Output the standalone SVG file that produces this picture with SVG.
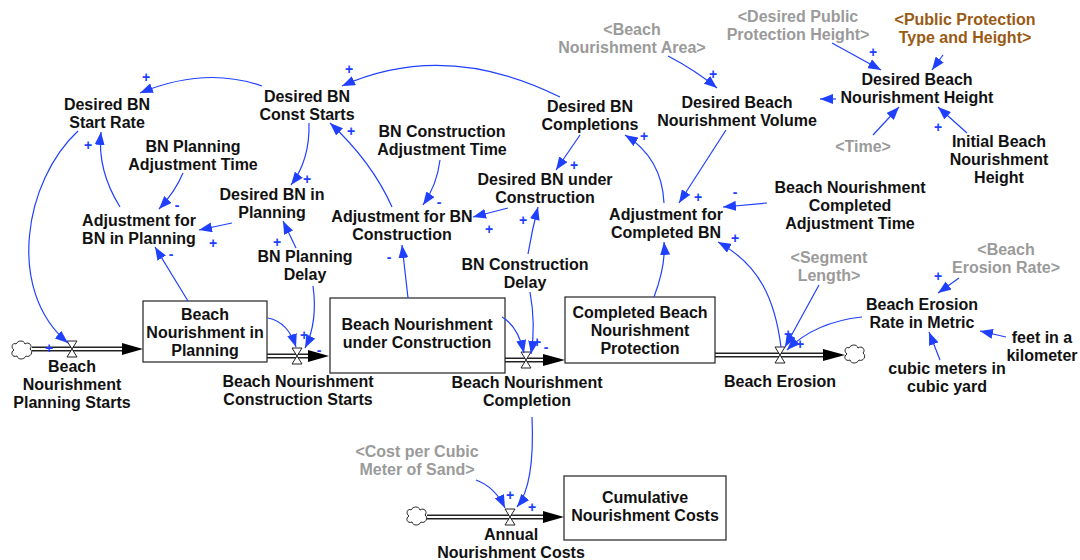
<svg xmlns="http://www.w3.org/2000/svg" width="1080" height="560" viewBox="0 0 1080 560">
<style>
text{font-family:"Liberation Sans",Arial,sans-serif;font-weight:bold;font-size:16px;text-anchor:middle;fill:#111}
.g{fill:#9a9a9a}
.br{fill:#9a5a14}
.p{fill:#2040ff;font-size:14px;dominant-baseline:central}
.c{fill:none;stroke:#2040ff;stroke-width:1.2;marker-end:url(#ab)}
.stock{fill:#fff;stroke:#222;stroke-width:1.2}
.po{fill:none;stroke:#222;stroke-width:5}
.pi{fill:none;stroke:#fff;stroke-width:1.8}
.valve{fill:#fff;stroke:#222;stroke-width:1}
.cloud{fill:#fff;stroke:#222;stroke-width:1}
</style>
<defs>
<marker id="ab" viewBox="0 0 13 10" refX="13" refY="5" markerWidth="13" markerHeight="10" orient="auto" markerUnits="userSpaceOnUse"><path d="M0,0 L13,5 L0,10 z" fill="#2040ff"/></marker>
<path id="cl" class="cloud" d="M-6,-6 C-4,-10 2,-10 3,-6 C7,-9 11,-4 8,-1 C12,2 8,8 4,6 C2,10 -4,10 -5,6 C-10,8 -12,2 -8,0 C-12,-3 -9,-8 -6,-6 Z"/>
<path id="vl" class="valve" d="M-5,-8 H5 L-5,8 H5 Z"/>
</defs>

<g id="flows">
<path class="po" d="M32,349 H124"/><path class="pi" d="M32,349 H124"/>
<polygon points="122,343 143,349 122,355" fill="#000"/>
<path class="po" d="M267,356 H310"/><path class="pi" d="M267,356 H310"/>
<polygon points="308,350 329,356 308,362" fill="#000"/>
<path class="po" d="M505,360 H545"/><path class="pi" d="M505,360 H545"/>
<polygon points="543,354 565,360 543,366" fill="#000"/>
<path class="po" d="M715,355 H825"/><path class="pi" d="M715,355 H825"/>
<polygon points="823,349 845,355 823,361" fill="#000"/>
<path class="po" d="M427,517 H545"/><path class="pi" d="M427,517 H545"/>
<polygon points="543,511 564,517 543,523" fill="#000"/>
<use href="#cl" x="22" y="350"/>
<use href="#cl" x="855" y="354"/>
<use href="#cl" x="417" y="516"/>
</g>

<g id="stock-planning"><rect class="stock" x="143" y="301" width="124" height="61"/><text x="205" y="320">Beach<tspan x="205" dy="18">Nourishment in</tspan><tspan x="205" dy="18">Planning</tspan></text></g>
<g id="stock-construction"><rect class="stock" x="330" y="298" width="175" height="75"/><text x="417" y="330">Beach Nourishment<tspan x="417" dy="18">under Construction</tspan></text></g>
<g id="stock-completed"><rect class="stock" x="565" y="297" width="150" height="66"/><text x="640" y="318">Completed Beach<tspan x="640" dy="18">Nourishment</tspan><tspan x="640" dy="18">Protection</tspan></text></g>
<g id="stock-costs"><rect class="stock" x="564" y="476" width="162" height="64"/><text x="645" y="503">Cumulative<tspan x="645" dy="18">Nourishment Costs</tspan></text></g>

<g id="flow-planning-starts"><use href="#vl" x="72" y="349"/><text x="72" y="372">Beach<tspan x="72" dy="18">Nourishment</tspan><tspan x="72" dy="18">Planning Starts</tspan></text></g>
<g id="flow-construction-starts"><use href="#vl" x="297" y="356"/><text x="298" y="387">Beach Nourishment<tspan x="298" dy="18">Construction Starts</tspan></text></g>
<g id="flow-completion"><use href="#vl" x="526" y="360"/><text x="527" y="388">Beach Nourishment<tspan x="527" dy="18">Completion</tspan></text></g>
<g id="flow-erosion"><use href="#vl" x="780" y="355"/><text x="780" y="387">Beach Erosion</text></g>
<g id="flow-annual-costs"><use href="#vl" x="510" y="517"/><text x="511" y="540">Annual<tspan x="511" dy="18">Nourishment Costs</tspan></text></g>

<g id="desired-bn-start-rate"><text x="107" y="110">Desired BN<tspan x="107" dy="18">Start Rate</tspan></text></g>
<g id="desired-bn-const-starts"><text x="307" y="102">Desired BN<tspan x="307" dy="18">Const Starts</tspan></text></g>
<g id="bn-planning-adj-time"><text x="193" y="152">BN Planning<tspan x="193" dy="18">Adjustment Time</tspan></text></g>
<g id="adj-bn-planning"><text x="139" y="226">Adjustment for<tspan x="139" dy="18">BN in Planning</tspan></text></g>
<g id="desired-bn-in-planning"><text x="272" y="200">Desired BN in<tspan x="272" dy="18">Planning</tspan></text></g>
<g id="bn-planning-delay"><text x="305" y="262">BN Planning<tspan x="305" dy="18">Delay</tspan></text></g>
<g id="bn-construction-adj-time"><text x="442" y="137">BN Construction<tspan x="442" dy="18">Adjustment Time</tspan></text></g>
<g id="desired-bn-completions"><text x="590" y="112">Desired BN<tspan x="590" dy="18">Completions</tspan></text></g>
<g id="beach-nourishment-area"><text class="g" x="632" y="35">&lt;Beach<tspan x="632" dy="18">Nourishment Area&gt;</tspan></text></g>
<g id="desired-bn-volume"><text x="737" y="108">Desired Beach<tspan x="737" dy="18">Nourishment Volume</tspan></text></g>
<g id="desired-public-protection-height"><text class="g" x="798" y="22">&lt;Desired Public<tspan x="798" dy="18">Protection Height&gt;</tspan></text></g>
<g id="public-protection-type"><text class="br" x="965" y="25">&lt;Public Protection<tspan x="965" dy="18">Type and Height&gt;</tspan></text></g>
<g id="desired-bn-height"><text x="917" y="85">Desired Beach<tspan x="917" dy="18">Nourishment Height</tspan></text></g>
<g id="time"><text class="g" x="863" y="152">&lt;Time&gt;</text></g>
<g id="initial-bn-height"><text x="999" y="147">Initial Beach<tspan x="999" dy="18">Nourishment</tspan><tspan x="999" dy="18">Height</tspan></text></g>
<g id="desired-bn-under-construction"><text x="545" y="185">Desired BN under<tspan x="545" dy="18">Construction</tspan></text></g>
<g id="adj-bn-construction"><text x="402" y="222">Adjustment for BN<tspan x="402" dy="18">Construction</tspan></text></g>
<g id="bn-construction-delay"><text x="525" y="270">BN Construction<tspan x="525" dy="18">Delay</tspan></text></g>
<g id="adj-completed-bn"><text x="666" y="220">Adjustment for<tspan x="666" dy="18">Completed BN</tspan></text></g>
<g id="bn-completed-adj-time"><text x="850" y="193">Beach Nourishment<tspan x="850" dy="18">Completed</tspan><tspan x="850" dy="18">Adjustment Time</tspan></text></g>
<g id="segment-length"><text class="g" x="829" y="263">&lt;Segment<tspan x="829" dy="18">Length&gt;</tspan></text></g>
<g id="beach-erosion-rate"><text class="g" x="1006" y="255">&lt;Beach<tspan x="1006" dy="18">Erosion Rate&gt;</tspan></text></g>
<g id="erosion-rate-metric"><text x="922" y="310">Beach Erosion<tspan x="922" dy="18">Rate in Metric</tspan></text></g>
<g id="feet-in-km"><text x="1042" y="343">feet in a<tspan x="1042" dy="18">kilometer</tspan></text></g>
<g id="cubic-m-in-yd"><text x="947" y="374">cubic meters in<tspan x="947" dy="18">cubic yard</tspan></text></g>
<g id="cost-per-cubic-meter"><text class="g" x="417" y="457">&lt;Cost per Cubic<tspan x="417" dy="18">Meter of Sand&gt;</tspan></text></g>

<g id="connectors">
<path class="c" d="M262,86 Q205,66 140,93"/>
<path class="c" d="M560,97 Q445,40 342,86"/>
<path class="c" d="M78,131 C25,180 5,290 68,343"/>
<path class="c" d="M120,207 Q97,170 101,132"/>
<path class="c" d="M183,173 Q175,192 159,209"/>
<path class="c" d="M232,223 L199,230"/>
<path class="c" d="M188,301 L155,247"/>
<path class="c" d="M309,123 Q310,160 291,185"/>
<path class="c" d="M296,248 L283,221"/>
<path class="c" d="M313,286 Q318,322 305,348"/>
<path class="c" d="M268,318 Q288,322 296,347"/>
<path class="c" d="M392,207 Q372,162 330,123"/>
<path class="c" d="M440,160 Q437,185 423,205"/>
<path class="c" d="M508,208 L473,217"/>
<path class="c" d="M408,298 L402,245"/>
<path class="c" d="M580,135 L556,170"/>
<path class="c" d="M528,254 Q532,230 538,207"/>
<path class="c" d="M530,292 Q536,325 531,354"/>
<path class="c" d="M502,317 Q518,326 524,353"/>
<path class="c" d="M654,297 Q666,265 664,242"/>
<path class="c" d="M664,203 Q662,158 625,135"/>
<path class="c" d="M726,130 L679,203"/>
<path class="c" d="M767,203 L723,207"/>
<path class="c" d="M781,347 C775,300 760,265 718,242"/>
<path class="c" d="M819,285 L785,347"/>
<path class="c" d="M862,317 Q815,322 787,350"/>
<path class="c" d="M959,278 L938,293"/>
<path class="c" d="M1006,337 L980,331"/>
<path class="c" d="M940,360 L929,332"/>
<path class="c" d="M668,56 Q695,70 717,88"/>
<path class="c" d="M836,99 L820,99"/>
<path class="c" d="M832,43 L881,70"/>
<path class="c" d="M943,55 L932,70"/>
<path class="c" d="M873,135 L899,107"/>
<path class="c" d="M967,133 L938,107"/>
<path class="c" d="M532,417 Q535,485 517,507"/>
<path class="c" d="M476,480 Q495,487 505,508"/>
</g>

<g id="polarities">
<text class="p" x="146" y="77">+</text>
<text class="p" x="349" y="69">+</text>
<text class="p" x="49" y="348">+</text>
<text class="p" x="88" y="145">+</text>
<text class="p" x="177" y="205">-</text>
<text class="p" x="213" y="243">+</text>
<text class="p" x="171" y="254">-</text>
<text class="p" x="307" y="179">+</text>
<text class="p" x="277" y="242">+</text>
<text class="p" x="304" y="335">+</text>
<text class="p" x="319" y="350">-</text>
<text class="p" x="351" y="131">+</text>
<text class="p" x="439" y="202">-</text>
<text class="p" x="489" y="229">+</text>
<text class="p" x="389" y="257">-</text>
<text class="p" x="574" y="165">+</text>
<text class="p" x="523" y="220">+</text>
<text class="p" x="537" y="342">+</text>
<text class="p" x="546" y="347">-</text>
<text class="p" x="644" y="136">+</text>
<text class="p" x="698" y="197">+</text>
<text class="p" x="735" y="192">-</text>
<text class="p" x="735" y="238">+</text>
<text class="p" x="788" y="334">+</text>
<text class="p" x="800" y="344">+</text>
<text class="p" x="938" y="276">+</text>
<text class="p" x="713" y="74">+</text>
<text class="p" x="873" y="52">+</text>
<text class="p" x="938" y="127">+</text>
<text class="p" x="510" y="495">+</text>
<text class="p" x="532" y="507">+</text>
</g>
</svg>
